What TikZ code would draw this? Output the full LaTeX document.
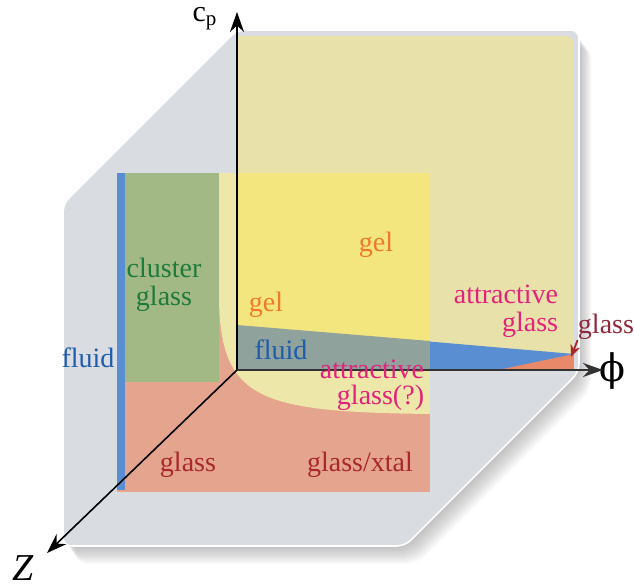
\documentclass[tikz,border=0pt]{standalone}
\usepackage{fontspec}
\setmainfont{LiberationSerif}[Extension=.ttf, UprightFont=*-Regular, ItalicFont=*-Italic, BoldFont=*-Bold]
\newfontfamily\phifont{DejaVu Serif}
\usetikzlibrary{arrows.meta,positioning,calc}

\definecolor{panelgrey}{HTML}{D9DDE1}
\definecolor{backyel}{HTML}{E8E1AA}
\definecolor{gelyel}{HTML}{F3E67F}
\definecolor{paleyel}{HTML}{EDE7A9}
\definecolor{clustgreen}{HTML}{A3B985}
\definecolor{fluidblue}{HTML}{5A8ED2}
\definecolor{glasssalmon}{HTML}{E5A48E}
\definecolor{fluidteal}{HTML}{8FA39C}
\definecolor{attrorange}{HTML}{E8896A}
\definecolor{txtgreen}{HTML}{1D7B3C}
\definecolor{txtorange}{HTML}{EE7A2B}
\definecolor{txtblue}{HTML}{1E5CAE}
\definecolor{txtmagenta}{HTML}{E2237C}
\definecolor{txtred}{HTML}{A8282C}
\definecolor{txtmaroon}{HTML}{8E2A3C}

\begin{document}
\begin{tikzpicture}[x=0.5pt, y=-0.5pt, >={Stealth[length=10pt,width=7pt]},
  every node/.style={font=\rmfamily\fontsize{14}{14}\selectfont, inner sep=0pt},
  axislbl/.style={font=\rmfamily\fontsize{19}{19}\selectfont}]
  \useasboundingbox (0,0) rectangle (634,587);
  % cube outline with a soft shadow
  \foreach \k in {1,...,18}
    \fill[black, opacity=0.014, rounded corners=6pt, xshift=\k*0.35pt, yshift=-\k*0.5pt]
      (237,30) -- (579,30) -- (579,372) -- (405,546) -- (63,546) -- (63,204) -- cycle;
  \filldraw[fill=panelgrey, draw=white, line width=0.8pt, rounded corners=4pt]
    (237,30) -- (579,30) -- (579,372) -- (405,546) -- (63,546) -- (63,204) -- cycle;
  % back plane
  \fill[backyel] (237,370) -- (237,36) [rounded corners=4pt] -- (574,36)
    [sharp corners] -- (574,370) -- cycle;
  \fill[fluidblue] (237,325) -- (574,354) -- (574,370) -- (237,370) -- cycle;
  \fill[attrorange] (498,370) -- (574,354) -- (574,370) -- cycle;
  % front plane
  \fill[glasssalmon] (117,173) rectangle (430,492);
  \fill[paleyel] (219,173) -- (430,173) -- (430,414)
    .. controls (260,412) and (221,400) .. (219,300) -- cycle;
  \fill[clustgreen] (125,173) rectangle (219,382);
  \fill[gelyel] (237,173) rectangle (430,370);
  \fill[fluidteal] (237,325) -- (430,341) -- (430,370) -- (237,370) -- cycle;
  \fill[fluidblue] (117,173) rectangle (125,490);
  % axes
  \coordinate (O) at (237,370);
  \node[font=\rmfamily\fontsize{15}{15}\selectfont] (cplab) at (205,19) {c\textsubscript{p}};
  \node[font=\phifont\fontsize{19}{19}\selectfont] (philab) at (612,371) {ϕ};
  \node[axislbl] (zlab) at (23,568) {\itshape Z};
  \coordinate (cpend) at (237,12);
  \coordinate (phiend) at (603,370);
  \coordinate (zend) at (47,553);
  \draw[->, line width=0.9pt] (O) -- (cpend);
  \draw[->, line width=1.1pt, black!80] (O) -- (phiend);
  \draw[->, line width=0.8pt] (O) -- (zend);
  % region labels
  \node[txtorange] (gelup) at (376,245) {gel};
  \node[txtgreen, align=center] (cluster) at (164,285) {cluster\\glass};
  \node[txtorange] (gellow) at (266,305) {gel};
  \node[txtblue] (fluidl) at (88,358) {fluid};
  \node[txtblue] (fluidr) at (281,350) {fluid};
  \node[txtmagenta, align=right] (attrtop) at (506,311) {attractive\\glass};
  \node[txtmagenta, align=right] (attrlow) at (372,385) {attractive\\[-1pt]glass(?)};
  \node[txtred] (glassl) at (188,465) {glass};
  \node[txtred] (glassx) at (360,465) {glass/xtal};
  \node[txtmaroon] (glassr) at (606,327) {glass};
  \coordinate (tri) at (571,357);
  \draw[->, >={Stealth[length=6pt,width=5pt]}, line width=0.9pt, txtred]
    (glassr.south west) -- (tri);
\end{tikzpicture}
\end{document}
